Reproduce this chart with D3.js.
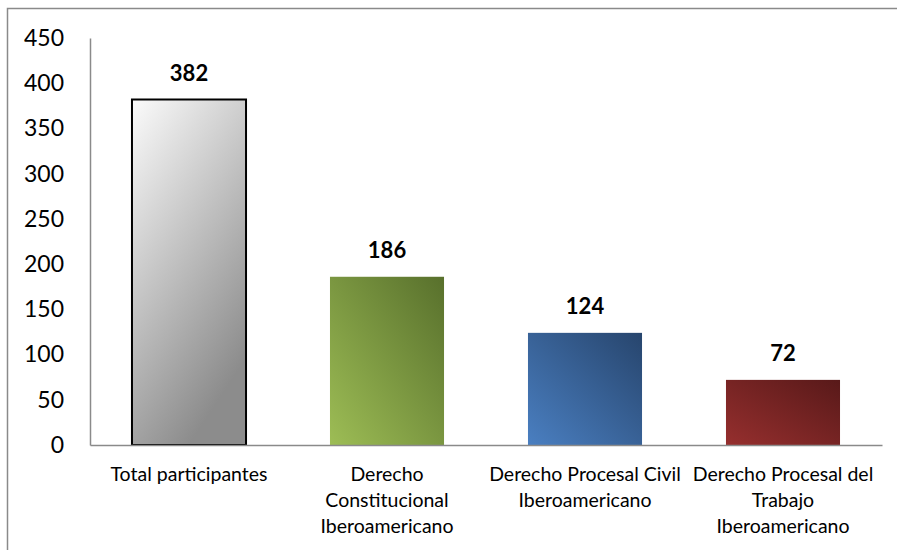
<!DOCTYPE html>
<html>
<head>
<meta charset="utf-8">
<script src="https://cdn.jsdelivr.net/npm/d3@7"></script>
<style>
  body { margin: 0; background: #fff; }
  svg { display: block; font-family: Lato, "Open Sans", sans-serif; }
</style>
</head>
<body>
<svg width="897" height="550"></svg>
<script>
// data
var categories = ["Total participantes", "Derecho Constitucional Iberoamericano",
                  "Derecho Procesal Civil Iberoamericano", "Derecho Procesal del Trabajo Iberoamericano"];
var values = [382, 186, 124, 72];
var tickLabels = [
  ["Total participantes"],
  ["Derecho", "Constitucional", "Iberoamericano"],
  ["Derecho Procesal Civil", "Iberoamericano"],
  ["Derecho Procesal del", "Trabajo", "Iberoamericano"]
];
var yTicks = [0, 50, 100, 150, 200, 250, 300, 350, 400, 450];

// gradient stops per bar: [light, dark]
var barColors = [["#fbfbfb", "#8c8c8c"], ["#9dbd55", "#58702c"], ["#4a7fc1", "#27456d"], ["#962f2e", "#581919"]];

var svg = d3.select("svg"),
    margin = {top: 38, right: 15, bottom: 105, left: 90},
    width = 897 - margin.left - margin.right,
    height = 550 - margin.top - margin.bottom;

// chart frame (goes off the right and bottom edges)
svg.append("path")
    .attr("d", "M7.5,560V8.5H900")
    .attr("fill", "none")
    .attr("stroke", "#8a8a8a")
    .attr("stroke-width", 1.5);

var defs = svg.append("defs");
barColors.forEach(function(c, i) {
  var gr = defs.append("linearGradient").attr("id", "grad" + i);
  if (i === 0) gr.attr("x1", 0).attr("y1", 0).attr("x2", 0.5).attr("y2", 1);
  else gr.attr("x1", 0).attr("y1", 1).attr("x2", 1).attr("y2", 0);
  gr.append("stop").attr("offset", "0%").attr("stop-color", c[0]);
  gr.append("stop").attr("offset", "100%").attr("stop-color", c[1]);
});

var g = svg.append("g").attr("transform", "translate(" + margin.left + "," + margin.top + ")");

var x = d3.scaleBand().domain(categories).range([0, width]).paddingInner(0.424).paddingOuter(0.212);
var y = d3.scaleLinear().domain([0, 450]).range([height, 0]);

// y axis
var yAxis = g.append("g")
    .call(d3.axisLeft(y).tickValues(yTicks).tickSize(0).tickPadding(26))
    .attr("font-family", null).attr("font-size", null);
yAxis.select(".domain").attr("stroke", "#8a8a8a").attr("stroke-width", 1.5);
yAxis.selectAll("text").style("font-size", "23px").attr("fill", "#000");

// bars
g.selectAll(".bar")
  .data(values)
  .enter().append("rect")
    .attr("class", "bar")
    .attr("x", function(d, i) { return x(categories[i]); })
    .attr("y", function(d) { return y(d); })
    .attr("width", x.bandwidth())
    .attr("height", function(d) { return height - y(d); })
    .attr("fill", function(d, i) { return "url(#grad" + i + ")"; })
    .attr("stroke", function(d, i) { return i === 0 ? "#000" : "none"; })
    .attr("stroke-width", 2);

// x axis
var xAxis = g.append("g")
    .attr("transform", "translate(0," + height + ")")
    .call(d3.axisBottom(x).tickSize(0).tickFormat(""))
    .attr("font-family", null).attr("font-size", null);
xAxis.select(".domain").attr("stroke", "#8a8a8a").attr("stroke-width", 1.5);

// category labels, wrapped like the original
xAxis.selectAll(".tick").each(function(d, i) {
  var t = d3.select(this).append("text")
      .attr("fill", "#000")
      .attr("text-anchor", "middle")
      .style("font-size", "19.5px");
  tickLabels[i].forEach(function(line, j) {
    t.append("tspan").attr("x", 0).attr("y", 36 + j * 26).text(line);
  });
});

// value labels
g.selectAll(".val")
  .data(values)
  .enter().append("text")
    .attr("class", "val")
    .attr("x", function(d, i) { return x(categories[i]) + x.bandwidth() / 2; })
    .attr("y", function(d) { return y(d) - 19; })
    .attr("text-anchor", "middle")
    .style("font-size", "22px")
    .style("font-weight", "bold")
    .text(function(d) { return d; });
</script>
</body>
</html>
